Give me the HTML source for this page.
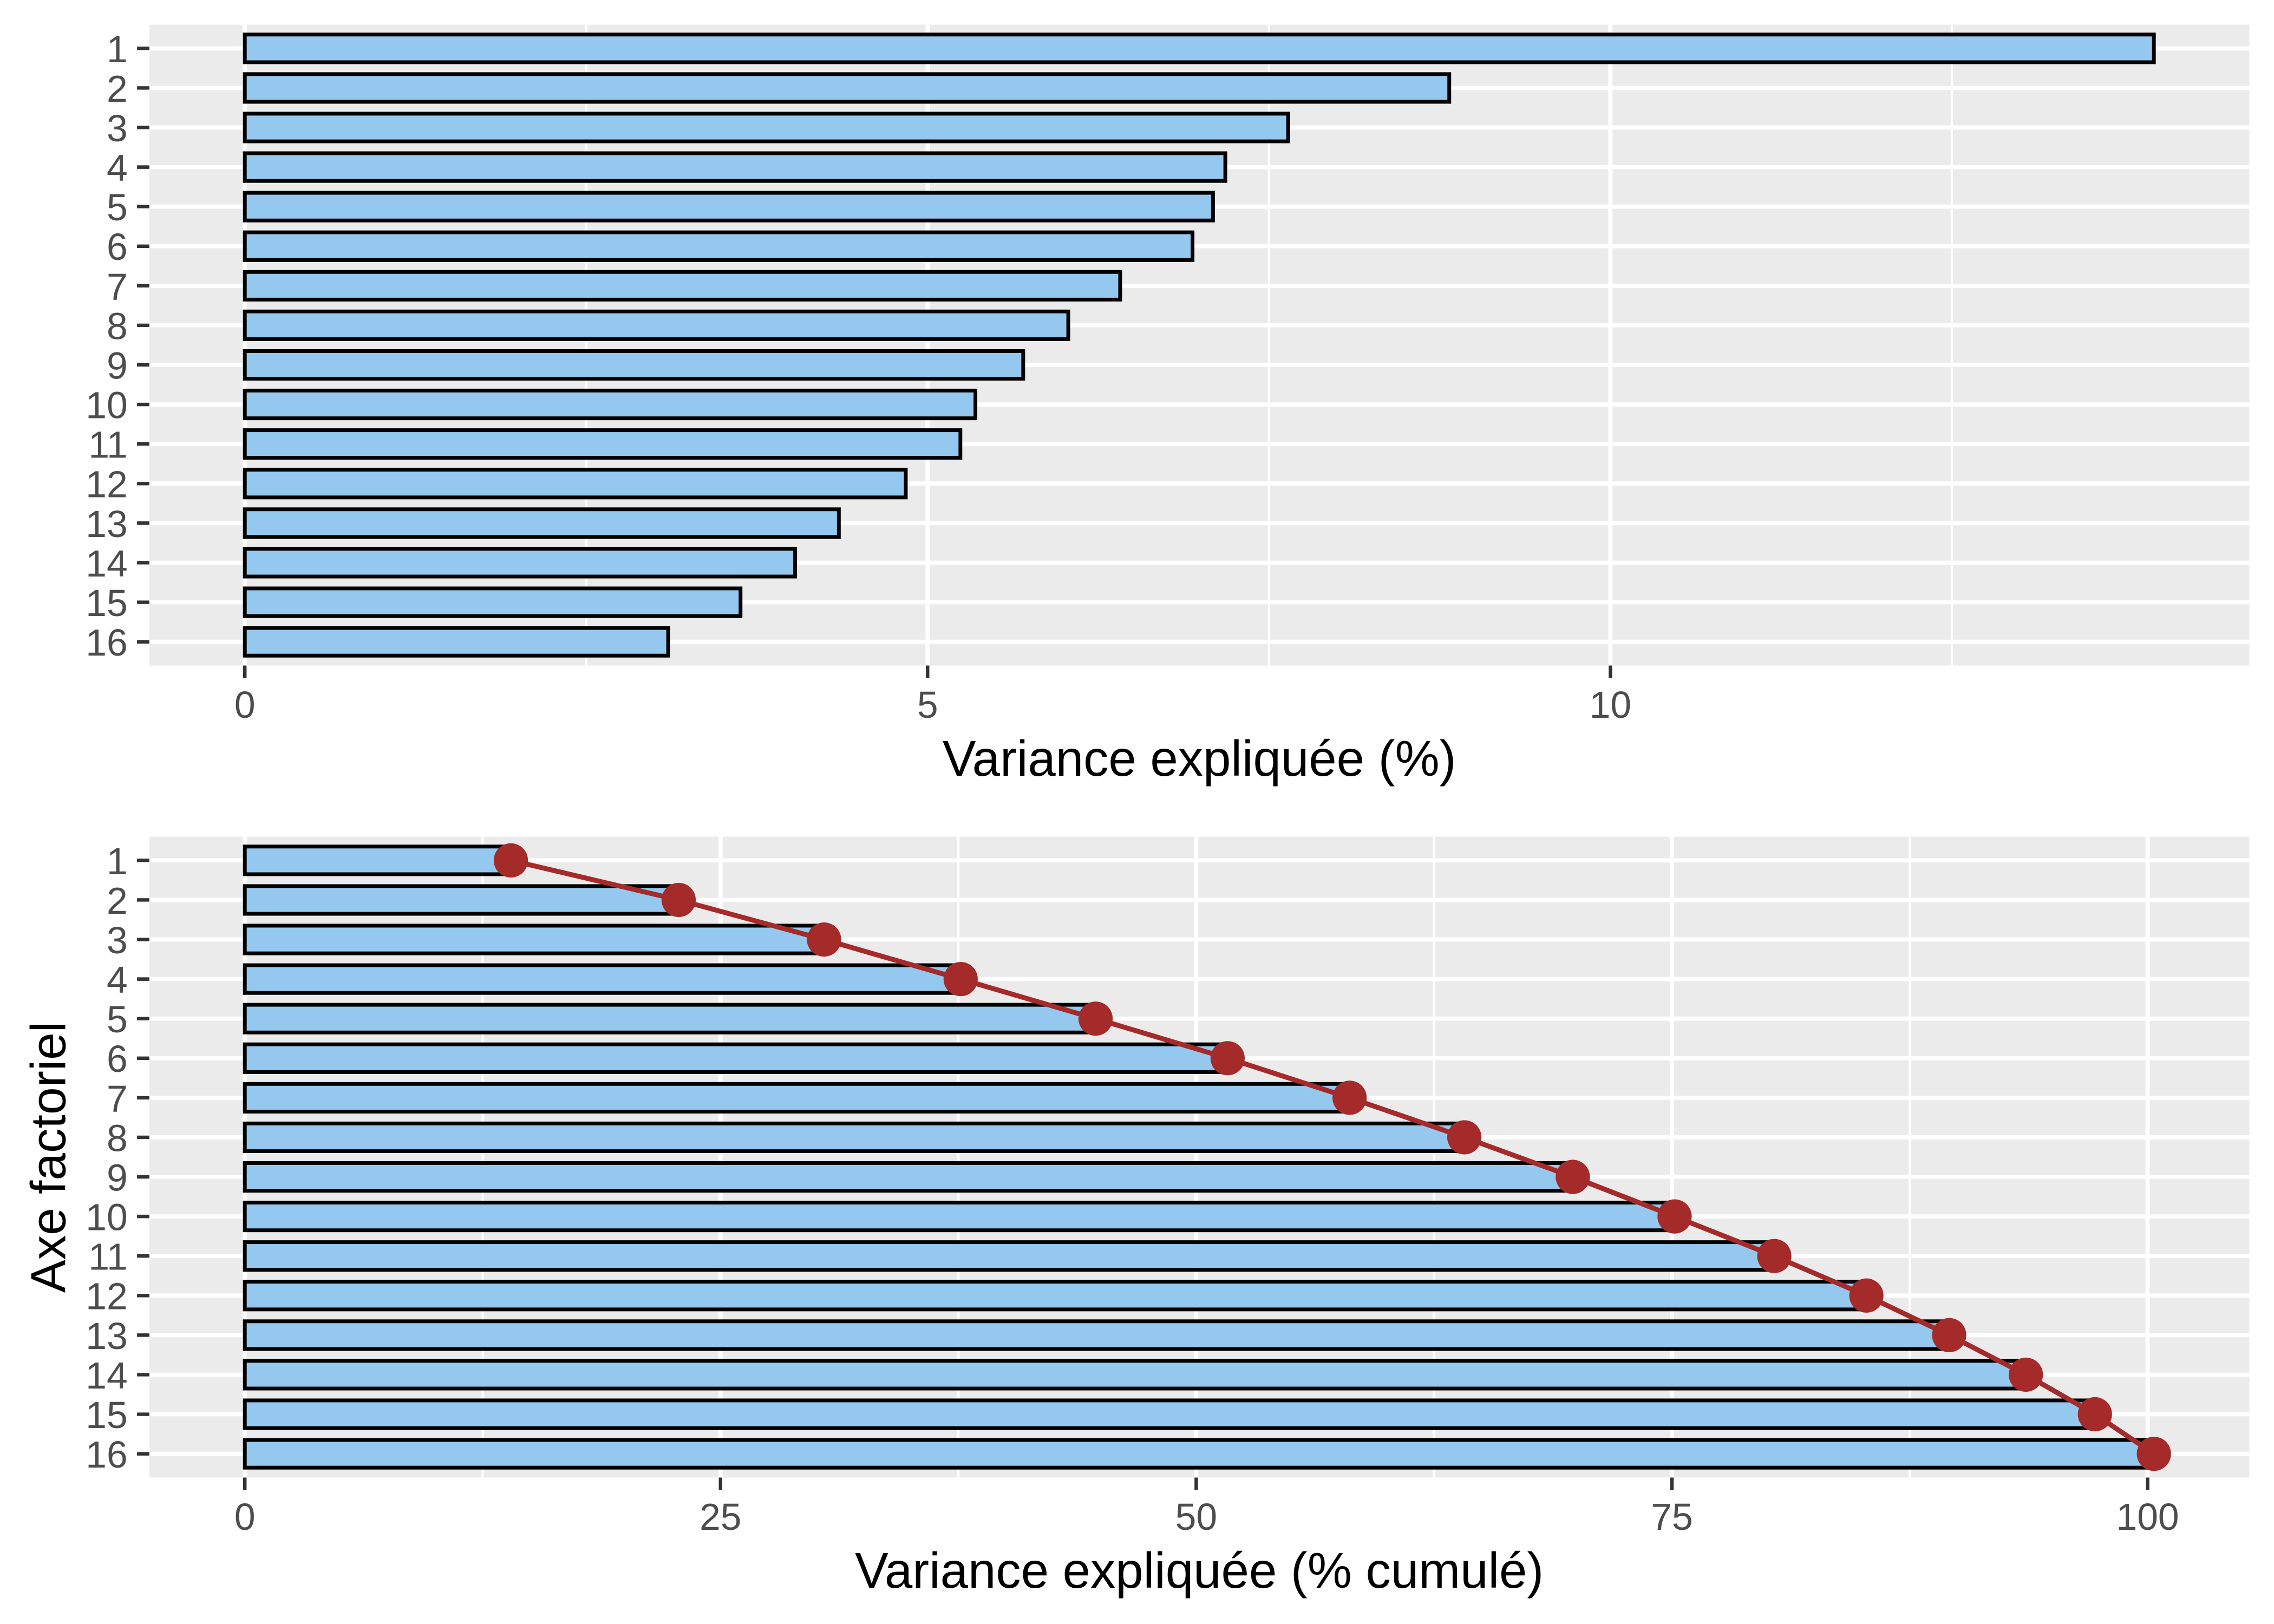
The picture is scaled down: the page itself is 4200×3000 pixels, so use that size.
<!DOCTYPE html>
<html><head><meta charset="utf-8"><style>
html,body{margin:0;padding:0;background:#fff}
svg{display:block}
text{font-family:"Liberation Sans",Arial,sans-serif}
</style></head><body>
<svg id="chart" width="4200" height="3000" viewBox="0 0 1568 1120" xmlns="http://www.w3.org/2000/svg"></svg>
<script>
const axes = ["1","2","3","4","5","6","7","8","9","10","11","12","13","14","15","16"];
const variance = [13.98,8.82,7.64,7.18,7.09,6.94,6.41,6.03,5.70,5.35,5.24,4.84,4.35,4.03,3.63,3.10];
const topTicks = [0,5,10];
const topMinor = [2.5,7.5,12.5];
const botTicks = [0,25,50,75,100];
const botMinor = [12.5,37.5,62.5,87.5];

const NS="http://www.w3.org/2000/svg";
const svg=document.getElementById('chart');
function el(tag,attrs,parent){const e=document.createElementNS(NS,tag);for(const k in attrs)e.setAttribute(k,attrs[k]);(parent||svg).appendChild(e);return e;}

const cum=[];variance.reduce((a,v,i)=>{cum[i]=a+v;return cum[i];},0);

function panel(name,vals,ticks,minor,top,bottom,xtitle,showLine){
  const L=103,R=1551;
  const g=el('g',{});
  
  
  const mx=Math.max(...vals), pad=mx*0.05;
  const x=v=>L+(v+pad)/(mx+2*pad)*(R-L);
  const n=axes.length, step=(bottom-top)/(n-1+1.2);
  const y=i=>top+step*(0.6+i);
  el('rect',{x:L,y:top,width:R-L,height:bottom-top,fill:'#EBEBEB'},g);
  minor.forEach(t=>{const l=el('line',{x1:x(t),x2:x(t),y1:top,y2:bottom,stroke:'#fff','stroke-width':1.6},g);});
  ticks.forEach(t=>{const l=el('line',{x1:x(t),x2:x(t),y1:top,y2:bottom,stroke:'#fff','stroke-width':2.9},g);});
  axes.forEach((a,i)=>{el('line',{x1:L,x2:R,y1:y(i),y2:y(i),stroke:'#fff','stroke-width':2.9},g);});
  const bh=step*0.7;
  vals.forEach((v,i)=>{
    const r=el('rect',{x:x(0),y:y(i)-bh/2,width:x(v)-x(0),height:bh,fill:'#95C8EE',stroke:'#000','stroke-width':2.6},g);
    
    
  });
  if(showLine){
    const p=el('polyline',{points:vals.map((v,i)=>x(v)+','+y(i)).join(' '),fill:'none',stroke:'#A52A2A','stroke-width':3.4},g);
    
    
    vals.forEach((v,i)=>{
      const c=el('circle',{cx:x(v),cy:y(i),r:11.8,fill:'#A52A2A'},g);
      
      
    });
  }
  axes.forEach((a,i)=>{
    el('line',{x1:L-8.5,x2:L,y1:y(i),y2:y(i),stroke:'#333','stroke-width':2.4},g);
    const t=el('text',{x:L-15,y:y(i)+9.5,'text-anchor':'end','font-size':26,fill:'#4D4D4D'},g);
    t.textContent=a;
    
    
  });
  ticks.forEach(tk=>{
    el('line',{x1:x(tk),x2:x(tk),y1:bottom,y2:bottom+8.5,stroke:'#333','stroke-width':2.4},g);
    const t=el('text',{x:x(tk),y:bottom+36,'text-anchor':'middle','font-size':26,fill:'#4D4D4D'},g);
    t.textContent=tk;
    
    
  });
  const xt=el('text',{x:(L+R)/2,y:bottom+76,'text-anchor':'middle','font-size':34.5,fill:'#000'},g);
  xt.textContent=xtitle;
  
  
}
panel('variance-panel',variance,topTicks,topMinor,17,459,'Variance expliquée (%)',false);
panel('cumulative-panel',cum,botTicks,botMinor,577,1019,'Variance expliquée (% cumulé)',true);
const yt=el('text',{x:0,y:0,transform:'translate(45,798) rotate(-90)','text-anchor':'middle','font-size':34,fill:'#000'});
yt.textContent='Axe factoriel';


</script>
</body></html>
